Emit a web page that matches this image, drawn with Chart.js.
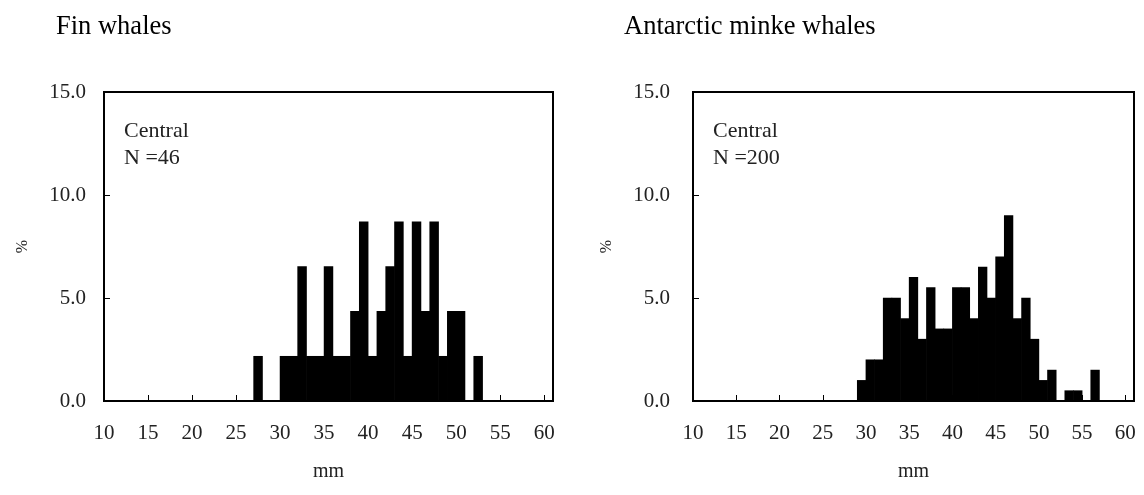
<!DOCTYPE html>
<html>
<head>
<meta charset="utf-8">
<script src="https://cdn.jsdelivr.net/npm/chart.js@4.4.1/dist/chart.umd.min.js"></script>
<style>
  html, body { margin: 0; padding: 0; background: #fff; }
  #wrap { position: relative; width: 1144px; height: 495px; }
  canvas { position: absolute; top: 0; }
</style>
</head>
<body>
<div id="wrap">
  <canvas id="fin" width="572" height="495" style="left:0"></canvas>
  <canvas id="minke" width="572" height="495" style="left:572px"></canvas>
</div>
<script>
// lower edge of each 1 mm class and % of animals in it (empty classes left out)
const finMm = [27, 30, 31, 32, 33, 34, 35, 36, 37, 38, 39, 40, 41, 42, 43, 44, 45, 46, 47, 48, 49, 50, 52];
const finPct = [2.17, 2.17, 2.17, 6.52, 2.17, 2.17, 6.52, 2.17, 2.17, 4.35, 8.70, 2.17, 4.35, 6.52, 8.70, 2.17, 8.70, 4.35, 8.70, 2.17, 4.35, 4.35, 2.17];

const minkeMm = [29, 30, 31, 32, 33, 34, 35, 36, 37, 38, 39, 40, 41, 42, 43, 44, 45, 46, 47, 48, 49, 50, 51, 53, 54, 56];
const minkePct = [1.0, 2.0, 2.0, 5.0, 5.0, 4.0, 6.0, 3.0, 5.5, 3.5, 3.5, 5.5, 5.5, 4.0, 6.5, 5.0, 7.0, 9.0, 4.0, 5.0, 3.0, 1.0, 1.5, 0.5, 0.5, 1.5];

const xTicks = [10, 15, 20, 25, 30, 35, 40, 45, 50, 55, 60];
const yTicks = [0, 5, 10, 15];

const serif = '"Liberation Serif", "Times New Roman", serif';

// box round the plot, inward tick marks, panel title and the Central / N note
const framePlugin = {
  id: 'frame',
  afterDraw(chart, args, opts) {
    const { ctx, chartArea: a, scales: { x, y } } = chart;
    ctx.save();
    ctx.strokeStyle = '#000';
    ctx.lineWidth = 1;
    ctx.beginPath();
    x.ticks.forEach(t => {
      const px = Math.round(x.getPixelForValue(t.value)) + 0.5;
      ctx.moveTo(px, a.bottom);
      ctx.lineTo(px, a.bottom - 6);
    });
    y.ticks.forEach(t => {
      const py = Math.round(y.getPixelForValue(t.value)) + 0.5;
      ctx.moveTo(a.left, py);
      ctx.lineTo(a.left + 6, py);
    });
    ctx.stroke();
    ctx.lineWidth = 2;
    ctx.strokeRect(a.left, a.top, a.right - a.left, a.bottom - a.top);

    ctx.fillStyle = '#000';
    ctx.textBaseline = 'alphabetic';
    ctx.textAlign = 'left';
    ctx.font = '26.5px ' + serif;
    ctx.fillText(opts.title, opts.titleX, 33.5);
    ctx.fillStyle = '#222';
    ctx.font = '22px ' + serif;
    opts.note.forEach((line, i) => ctx.fillText(line, a.left + 20, a.top + 45 + i * 27));
    ctx.restore();
  }
};

function makeChart(id, mm, pct, cfg) {
  const tickFont = { family: serif, size: 21 };
  return new Chart(document.getElementById(id), {
    type: 'bar',
    data: {
      datasets: [{
        data: mm.map((m, i) => ({ x: m + 0.5, y: pct[i] })),
        backgroundColor: '#000',
        borderWidth: 0,
        barPercentage: 1,
        categoryPercentage: 1
      }]
    },
    options: {
      responsive: false,
      animation: false,
      layout: { padding: { top: 92, right: cfg.padRight, left: 0, bottom: 0 } },
      plugins: {
        legend: { display: false },
        tooltip: { enabled: false },
        frame: { title: cfg.title, titleX: cfg.titleX, note: cfg.note }
      },
      scales: {
        x: {
          type: 'linear',
          min: 10,
          max: 61,
          offset: false,
          afterBuildTicks: s => { s.ticks = xTicks.map(v => ({ value: v })); },
          afterFit: s => { s.height = 94; s.paddingLeft = 0; s.paddingRight = 0; },
          grid: { display: false, drawTicks: false, offset: false },
          border: { display: false },
          ticks: { font: tickFont, color: '#222', padding: 19.5, maxRotation: 0, autoSkip: false },
          title: { display: true, text: 'mm', font: { family: serif, size: 20 }, color: '#222', padding: { top: 0, bottom: 11 } }
        },
        y: {
          min: 0,
          max: 15,
          afterBuildTicks: s => { s.ticks = yTicks.map(v => ({ value: v })); },
          afterFit: s => { s.width = cfg.yWidth; },
          grid: { display: false, drawTicks: false },
          border: { display: false },
          ticks: { font: tickFont, color: '#222', padding: cfg.yPad, callback: v => v.toFixed(1) },
          title: { display: true, text: '%', font: { family: serif, size: 16 }, color: '#222', padding: { top: cfg.yTitlePad, bottom: 0 } }
        }
      }
    },
    plugins: [framePlugin]
  });
}

makeChart('fin', finMm, finPct, {
  title: 'Fin whales', titleX: 56, note: ['Central', 'N =46'],
  padRight: 19, yWidth: 104, yPad: 18, yTitlePad: 13
});
makeChart('minke', minkeMm, minkePct, {
  title: 'Antarctic minke whales', titleX: 52, note: ['Central', 'N =200'],
  padRight: 10, yWidth: 121, yPad: 23, yTitlePad: 25
});
</script>
</body>
</html>
